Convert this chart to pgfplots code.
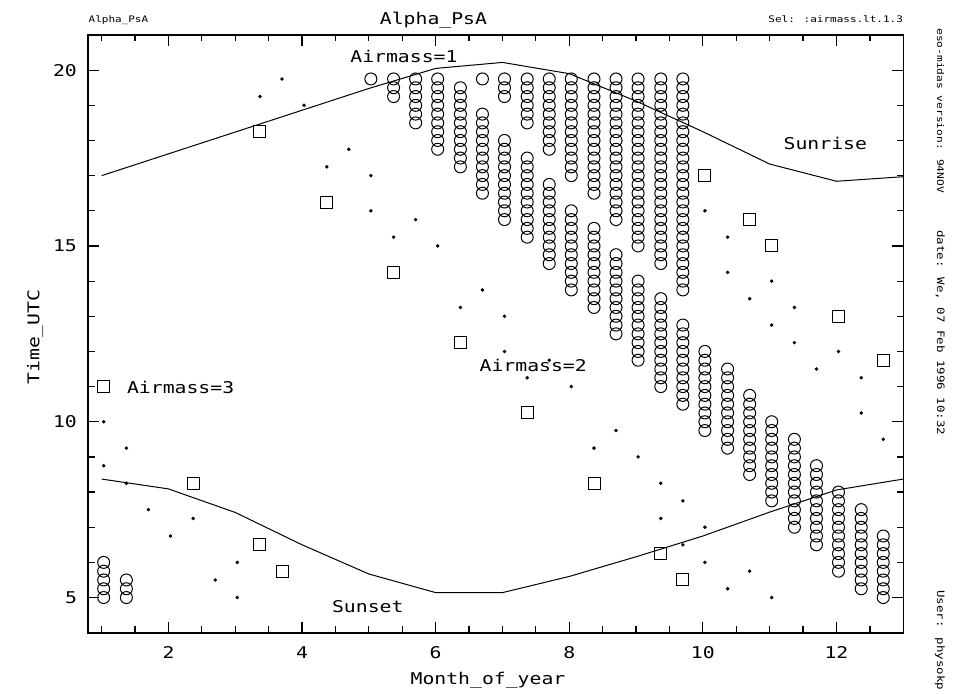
\documentclass[border=0pt]{standalone}
\usepackage{fontspec}
\usepackage{pgfplots}
\pgfplotsset{compat=1.18}
\newfontfamily\midas[FakeStretch=1.22]{DejaVu Sans Mono}
\newcommand\mfont{\midas\fontsize{8.1}{9.7}\selectfont}
\newcommand\sfont{\midas\fontsize{4.5}{5.4}\selectfont}
\newcommand\vfont{\midas\fontsize{5.1}{6}\selectfont}

\begin{document}
\begin{tikzpicture}
\useasboundingbox (-44.15pt,-30.15pt) rectangle (433.35pt,316.35pt);
\begin{axis}[
    width=407.5pt, height=298.85pt, scale only axis,
    xmin=0.8, xmax=13, ymin=4, ymax=21,
    axis line style={line width=0.8pt},
    xtick={2,4,...,12}, minor xtick={1,1.5,...,12.5},
    ytick={5,10,15,20}, minor ytick={5,6,...,20},
    major tick length=5.5pt, minor tick length=3.2pt,
    tick style={line width=0.6pt, black},
    ticklabel style={font=\mfont, inner sep=0pt},
    /pgf/number format/assume math mode=true,
    xticklabel style={yshift=-6.6pt},
    yticklabel style={xshift=-5.5pt},
    every axis plot/.append style={line width=0.5pt, black},
]
% sunrise / sunset
\addplot[mark=none] coordinates {(1,17.0)(2,17.62)(3,18.24)(4,18.86)(5,19.48)(6,20.05)(7,20.22)(8,19.9)(9,19.12)(10,18.25)(11,17.33)(12,16.84)(13,16.97)};
\addplot[mark=none] coordinates {(1,8.37)(2,8.09)(3,7.42)(4,6.5)(5,5.67)(6,5.14)(7,5.14)(8,5.6)(9,6.16)(10,6.75)(11,7.43)(12,8.06)(13,8.37)};
% airmass < 1.3
\addplot[only marks, mark=o, mark size=3pt] coordinates {
(1.03,5)(1.03,5.25)(1.03,5.5)(1.03,5.75)(1.03,6)
(1.37,5)(1.37,5.25)(1.37,5.5)
(5.03,19.75)
(5.37,19.25)(5.37,19.5)(5.37,19.75)
(5.70,18.5)(5.70,18.75)(5.70,19)(5.70,19.25)(5.70,19.5)(5.70,19.75)
(6.03,17.75)(6.03,18)(6.03,18.25)(6.03,18.5)(6.03,18.75)(6.03,19)(6.03,19.25)(6.03,19.5)(6.03,19.75)
(6.37,17.25)(6.37,17.5)(6.37,17.75)(6.37,18)(6.37,18.25)(6.37,18.5)(6.37,18.75)(6.37,19)(6.37,19.25)(6.37,19.5)
(6.70,16.5)(6.70,16.75)(6.70,17)(6.70,17.25)(6.70,17.5)(6.70,17.75)(6.70,18)(6.70,18.25)(6.70,18.5)(6.70,18.75)(6.70,19.75)
(7.03,15.75)(7.03,16)(7.03,16.25)(7.03,16.5)(7.03,16.75)(7.03,17)(7.03,17.25)(7.03,17.5)(7.03,17.75)(7.03,18)
(7.03,19.25)(7.03,19.5)(7.03,19.75)
(7.37,15.25)(7.37,15.5)(7.37,15.75)(7.37,16)(7.37,16.25)(7.37,16.5)(7.37,16.75)(7.37,17)(7.37,17.25)(7.37,17.5)
(7.37,18.5)(7.37,18.75)(7.37,19)(7.37,19.25)(7.37,19.5)(7.37,19.75)
(7.70,14.5)(7.70,14.75)(7.70,15)(7.70,15.25)(7.70,15.5)(7.70,15.75)(7.70,16)(7.70,16.25)(7.70,16.5)(7.70,16.75)
(7.70,17.75)(7.70,18)(7.70,18.25)(7.70,18.5)(7.70,18.75)(7.70,19)(7.70,19.25)(7.70,19.5)(7.70,19.75)
(8.03,13.75)(8.03,14)(8.03,14.25)(8.03,14.5)(8.03,14.75)(8.03,15)(8.03,15.25)(8.03,15.5)(8.03,15.75)(8.03,16)
(8.03,17)(8.03,17.25)(8.03,17.5)(8.03,17.75)(8.03,18)(8.03,18.25)(8.03,18.5)(8.03,18.75)(8.03,19)(8.03,19.25)(8.03,19.5)(8.03,19.75)
(8.37,13.25)(8.37,13.5)(8.37,13.75)(8.37,14)(8.37,14.25)(8.37,14.5)(8.37,14.75)(8.37,15)(8.37,15.25)(8.37,15.5)
(8.37,16.5)(8.37,16.75)(8.37,17)(8.37,17.25)(8.37,17.5)(8.37,17.75)(8.37,18)(8.37,18.25)(8.37,18.5)(8.37,18.75)(8.37,19)(8.37,19.25)(8.37,19.5)(8.37,19.75)
(8.70,12.5)(8.70,12.75)(8.70,13)(8.70,13.25)(8.70,13.5)(8.70,13.75)(8.70,14)(8.70,14.25)(8.70,14.5)(8.70,14.75)
(8.70,15.75)(8.70,16)(8.70,16.25)(8.70,16.5)(8.70,16.75)(8.70,17)(8.70,17.25)(8.70,17.5)(8.70,17.75)(8.70,18)(8.70,18.25)(8.70,18.5)(8.70,18.75)(8.70,19)(8.70,19.25)(8.70,19.5)(8.70,19.75)
(9.03,11.75)(9.03,12)(9.03,12.25)(9.03,12.5)(9.03,12.75)(9.03,13)(9.03,13.25)(9.03,13.5)(9.03,13.75)(9.03,14)
(9.03,15)(9.03,15.25)(9.03,15.5)(9.03,15.75)(9.03,16)(9.03,16.25)(9.03,16.5)(9.03,16.75)(9.03,17)(9.03,17.25)(9.03,17.5)(9.03,17.75)(9.03,18)(9.03,18.25)(9.03,18.5)(9.03,18.75)(9.03,19)(9.03,19.25)(9.03,19.5)(9.03,19.75)
(9.37,11)(9.37,11.25)(9.37,11.5)(9.37,11.75)(9.37,12)(9.37,12.25)(9.37,12.5)(9.37,12.75)(9.37,13)(9.37,13.25)(9.37,13.5)
(9.37,14.5)(9.37,14.75)(9.37,15)(9.37,15.25)(9.37,15.5)(9.37,15.75)(9.37,16)(9.37,16.25)(9.37,16.5)(9.37,16.75)(9.37,17)(9.37,17.25)(9.37,17.5)(9.37,17.75)(9.37,18)(9.37,18.25)(9.37,18.5)(9.37,18.75)(9.37,19)(9.37,19.25)(9.37,19.5)(9.37,19.75)
(9.70,10.5)(9.70,10.75)(9.70,11)(9.70,11.25)(9.70,11.5)(9.70,11.75)(9.70,12)(9.70,12.25)(9.70,12.5)(9.70,12.75)
(9.70,13.75)(9.70,14)(9.70,14.25)(9.70,14.5)(9.70,14.75)(9.70,15)(9.70,15.25)(9.70,15.5)(9.70,15.75)(9.70,16)(9.70,16.25)(9.70,16.5)(9.70,16.75)(9.70,17)(9.70,17.25)(9.70,17.5)(9.70,17.75)(9.70,18)(9.70,18.25)(9.70,18.5)(9.70,18.75)(9.70,19)(9.70,19.25)(9.70,19.5)(9.70,19.75)
(10.03,9.75)(10.03,10)(10.03,10.25)(10.03,10.5)(10.03,10.75)(10.03,11)(10.03,11.25)(10.03,11.5)(10.03,11.75)(10.03,12)
(10.37,9.25)(10.37,9.5)(10.37,9.75)(10.37,10)(10.37,10.25)(10.37,10.5)(10.37,10.75)(10.37,11)(10.37,11.25)(10.37,11.5)
(10.70,8.5)(10.70,8.75)(10.70,9)(10.70,9.25)(10.70,9.5)(10.70,9.75)(10.70,10)(10.70,10.25)(10.70,10.5)(10.70,10.75)
(11.03,7.75)(11.03,8)(11.03,8.25)(11.03,8.5)(11.03,8.75)(11.03,9)(11.03,9.25)(11.03,9.5)(11.03,9.75)(11.03,10)
(11.37,7)(11.37,7.25)(11.37,7.5)(11.37,7.75)(11.37,8)(11.37,8.25)(11.37,8.5)(11.37,8.75)(11.37,9)(11.37,9.25)(11.37,9.5)
(11.70,6.5)(11.70,6.75)(11.70,7)(11.70,7.25)(11.70,7.5)(11.70,7.75)(11.70,8)(11.70,8.25)(11.70,8.5)(11.70,8.75)
(12.03,5.75)(12.03,6)(12.03,6.25)(12.03,6.5)(12.03,6.75)(12.03,7)(12.03,7.25)(12.03,7.5)(12.03,7.75)(12.03,8)
(12.37,5.25)(12.37,5.5)(12.37,5.75)(12.37,6)(12.37,6.25)(12.37,6.5)(12.37,6.75)(12.37,7)(12.37,7.25)(12.37,7.5)
(12.70,5)(12.70,5.25)(12.70,5.5)(12.70,5.75)(12.70,6)(12.70,6.25)(12.70,6.5)(12.70,6.75)
};
% airmass = 2
\addplot[only marks, mark=*, mark size=0.6pt] coordinates {
(1.03,10)(1.03,8.75)(1.37,9.25)(1.37,8.25)(1.70,7.5)(2.03,6.75)(2.37,7.25)(2.70,5.5)(3.03,6)(3.03,5)
(3.37,19.25)(3.70,19.75)(4.03,19)(4.37,17.25)(4.70,17.75)(5.03,17)(5.03,16)(5.37,15.25)(5.70,15.75)(6.03,15)
(6.37,13.25)(6.70,13.75)(7.03,13)(7.03,12)(7.37,11.25)(7.70,11.75)(8.03,11)(8.37,9.25)(8.70,9.75)(9.03,9)
(9.37,8.25)(9.37,7.25)(9.70,7.75)(9.70,6.5)(10.03,7)(10.03,6)(10.37,5.25)(10.70,5.75)(11.03,5)
(10.03,16)(10.37,15.25)(10.37,14.25)(11.03,14)(10.70,13.5)(11.37,13.25)(11.03,12.75)(11.37,12.25)(12.03,12)
(11.70,11.5)(12.37,11.25)(12.37,10.25)(12.70,9.5)
};
% airmass = 3
\addplot[only marks, mark=square, mark size=3pt] coordinates {
(1.03,11)(2.37,8.25)(3.37,18.25)(3.37,6.5)(3.70,5.75)(4.37,16.25)(5.37,14.25)(6.37,12.25)(7.37,10.25)
(8.37,8.25)(9.37,6.25)(9.70,5.5)(10.03,17)(10.70,15.75)(11.03,15)(12.03,13)(12.70,11.75)
};
\end{axis}
\begin{scope}[every node/.style={inner sep=0pt, font=\mfont}]
\node[anchor=base west] at (130.85pt,285.2pt) {Airmass=1};
\node[anchor=base west] at (195.5pt,130.5pt) {Airmass=2};
\node[anchor=base west] at (19.2pt,119.7pt) {Airmass=3};
\node[anchor=base west] at (347.5pt,241.7pt) {Sunrise};
\node[anchor=base west] at (121.7pt,10pt) {Sunset};
\node[anchor=base] at (199.85pt,-25.65pt) {Month\_of\_year};
\node[anchor=base, rotate=90] at (-24.4pt,147.85pt) {Time\_UTC};
\node[anchor=base] at (172.6pt,304.35pt) {Alpha\_PsA};
\node[anchor=base west, font=\sfont] at (0pt,305.35pt) {Alpha\_PsA};
\node[anchor=base east, font=\sfont] at (407.5pt,305.35pt) {Sel: :airmass.lt.1.3};
\node[anchor=base west, rotate=-90, font=\midas\fontsize{4.6}{5.5}\selectfont] at (424.35pt,302.35pt) {eso-midas version: 94NOV};
\node[anchor=base west, rotate=-90, font=\vfont] at (424.35pt,201.35pt) {date: We, 07 Feb 1996 10:32};
\node[anchor=base west, rotate=-90, font=\vfont] at (424.35pt,21.35pt) {User: physokp};
\end{scope}
\end{tikzpicture}
\end{document}
